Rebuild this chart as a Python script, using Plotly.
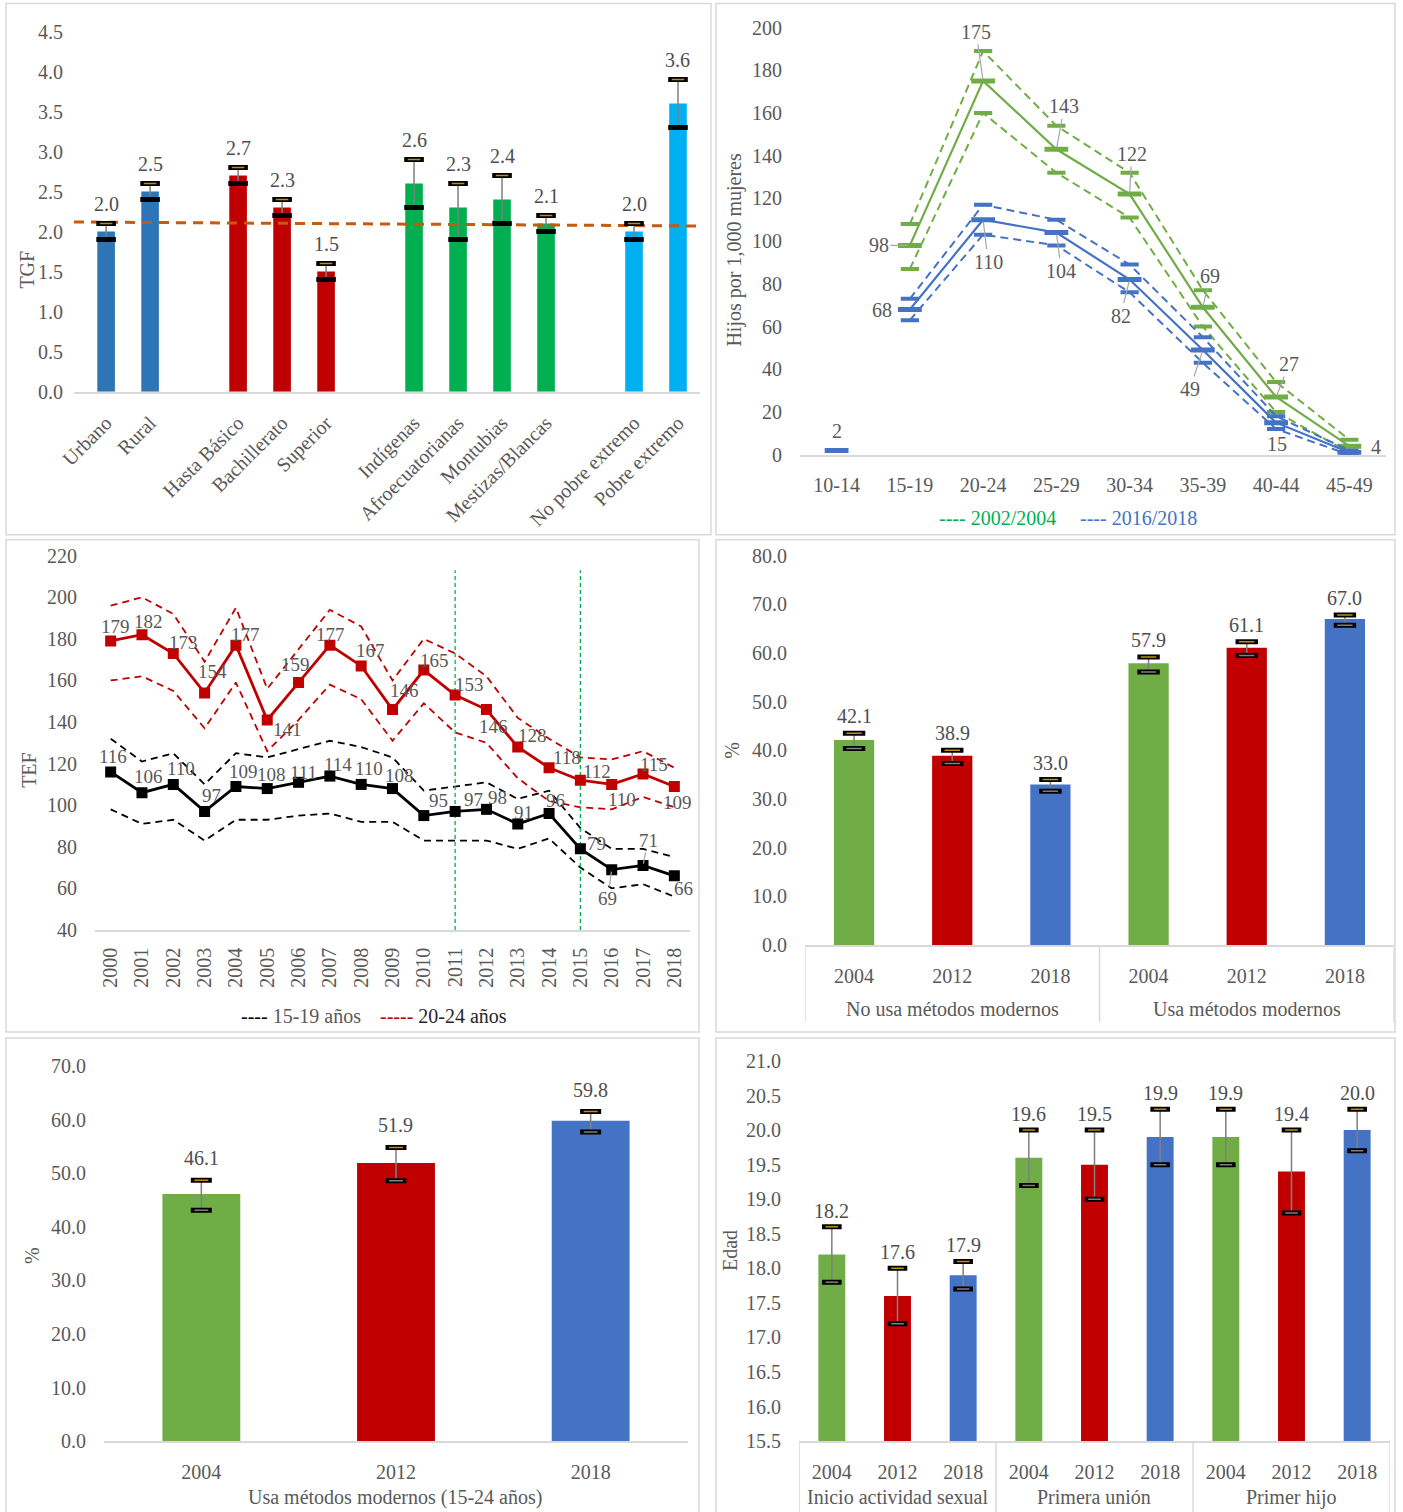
import plotly.graph_objects as go

# ---------------------------------------------------------------- data
# A. Tasa global de fecundidad (TGF) por grupo
TGF_GROUPS = [
    ["Urbano", "Rural"],
    ["Hasta Básico", "Bachillerato", "Superior"],
    ["Indígenas", "Afroecuatorianas", "Montubias", "Mestizas/Blancas"],
    ["No pobre extremo", "Pobre extremo"],
]
TGF = [[2.0, 2.5], [2.7, 2.3, 1.5], [2.6, 2.3, 2.4, 2.1], [2.0, 3.6]]
TGF_LO = [[1.9, 2.4], [2.6, 2.2, 1.4], [2.3, 1.9, 2.1, 2.0], [1.9, 3.3]]
TGF_HI = [[2.1, 2.6], [2.8, 2.4, 1.6], [2.9, 2.6, 2.7, 2.2], [2.1, 3.9]]
TGF_NATIONAL = [2.12, 2.07]          # reference line at the two ends of the plot

# B. Tasas específicas de fecundidad por edad (hijos por 1,000 mujeres)
AGE_GROUPS = ["10-14", "15-19", "20-24", "25-29", "30-34", "35-39", "40-44", "45-49"]
ASFR_0204 = [None, 98, 175, 143, 122, 69, 27, 4]
ASFR_0204_LO = [None, 87, 160, 132, 111, 60, 20, 1]
ASFR_0204_HI = [None, 108, 189, 154, 132, 77, 34, 7]
ASFR_1618 = [2, 68, 110, 104, 82, 49, 15, 1]
ASFR_1618_LO = [None, 63, 103, 98, 76, 43, 12, 0]
ASFR_1618_HI = [None, 73, 117, 110, 89, 55, 18, 2]

# C. TEF de adolescentes y jóvenes, 2000-2018
YEARS = ["2000", "2001", "2002", "2003", "2004", "2005", "2006", "2007", "2008", "2009",
         "2010", "2011", "2012", "2013", "2014", "2015", "2016", "2017", "2018"]
TEF_2024 = [179, 182, 173, 154, 177, 141, 159, 177, 167, 146, 165, 153, 146, 128, 118, 112, 110, 115, 109]
TEF_2024_HI = [196, 200, 192, 169, 195, 156, 175, 194, 186, 160, 180, 173, 162, 142, 132, 123, 122, 126, 118]
TEF_2024_LO = [160, 162, 155, 137, 159, 126, 141, 158, 151, 131, 149, 135, 130, 113, 102, 99, 98, 104, 99]
TEF_1519 = [116, 106, 110, 97, 109, 108, 111, 114, 110, 108, 95, 97, 98, 91, 96, 79, 69, 71, 66]
TEF_1519_HI = [132, 121, 125, 110, 125, 123, 127, 131, 128, 123, 107, 109, 111, 103, 107, 89, 79, 79, 75]
TEF_1519_LO = [98, 91, 93, 83, 93, 93, 95, 96, 92, 92, 83, 83, 83, 79, 84, 70, 60, 62, 56]
CUT_YEARS = ["2011", "2015"]

# D. Uso de métodos modernos (%)
SURVEY_YEARS = ["2004", "2012", "2018"]
USE_GROUPS = ["No usa métodos modernos", "Usa métodos modernos"]
USE_PCT = [[42.1, 38.9, 33.0], [57.9, 61.1, 67.0]]
USE_LO = [[40.4, 37.3, 31.6], [56.1, 59.5, 65.7]]
USE_HI = [[43.5, 40.0, 34.0], [59.2, 62.3, 67.8]]

# E. Uso de métodos modernos, 15-24 años (%)
YOUTH_PCT = [46.1, 51.9, 59.8]
YOUTH_LO = [43.1, 48.6, 57.7]
YOUTH_HI = [48.7, 54.8, 61.5]

# F. Edad mediana a los eventos
EVENTS = ["Inicio actividad sexual", "Primera unión", "Primer hijo"]
AGE_MED = [[18.2, 17.6, 17.9], [19.6, 19.5, 19.9], [19.9, 19.4, 20.0]]
AGE_LO = [[17.8, 17.2, 17.7], [19.2, 19.0, 19.5], [19.5, 18.8, 19.7]]
AGE_HI = [[18.6, 18.0, 18.1], [20.0, 20.0, 20.3], [20.3, 20.0, 20.3]]

# ---------------------------------------------------------------- styles
W, H = 1403, 1512
# layout grid: positions below are given on a grid inset from the page corner
GRID_X0, GRID_Y0 = 14.0, 11.5
GRID_SX, GRID_SY = 0.9886, 0.985
FONT = "Liberation Serif"
FS = 20
TICK_GREY = "#595959"
LABEL_GREY = "#4D4D4D"
AXIS_GREY = "#D9D9D9"
ERR_GREY = "#7F7F7F"
CAP_GOLD = "#BF8F00"
GREEN = "#70AD47"
RED = "#C00000"
BLUE = "#4472C4"
BRIGHT_GREEN = "#00B050"
TGF_COLORS = ["#2E75B6", "#C00000", "#00B050", "#00B0F0"]
YEAR_COLORS = [GREEN, RED, BLUE]
A_RANGE = [-0.73, 13.5]

# label offsets in pixels (dx, dy, leader line)
ASFR_0204_OFF = [None, (-31, 0, True), (-7, -49, True), (8, -43, True), (2, -40, True),
                 (7, -31, True), (13, -33, True), (27, 1, False)]
ASFR_1618_OFF = [(0, -19, False), (-28, 1, False), (5, 42, True), (5, 38, True),
                 (-9, 36, True), (-13, 39, True), (1, 21, False), None]
TEF_2024_OFF = [(5, -14), (7, -13), (10, -11), (8, -21), (10, -11), (20, 10), (-3, -18), (1, -11),
                (9, -15), (12, -19), (11, -10), (14, -11), (7, 17), (15, -11), (18, -10), (17, -9),
                (10, 15), (11, -10), (3, 16)]
TEF_1519_OFF = [(2, -15), (7, -16), (8, -16), (7, -16), (8, -15), (4, -14), (5, -10), (8, -12),
                (8, -16), (7, -13), (15, -15), (18, -12), (11, -12), (6, -11), (6, -13), (16, -5),
                (-4, 29), (5, -25), (9, 13)]
TEF_1519_LEADER = {16, 17}


def px(x):
    return (x - GRID_X0) / GRID_SX / W


def py(y):
    return 1 - (y - GRID_Y0) / GRID_SY / H


fig = go.Figure()
annotations = []
shapes = []


def paper_text(text, x, y, angle=0, color=TICK_GREY):
    annotations.append(dict(x=px(x), y=py(y), xref="paper", yref="paper", text=text,
                            textangle=angle, showarrow=False, xanchor="center", yanchor="middle",
                            font=dict(family=FONT, size=FS, color=color)))


def add_caps(xs, lo, hi, xa, ya, size=14, lo_core=None):
    """Black end blocks of the confidence intervals, with a coloured core."""
    common = dict(mode="markers", xaxis=xa, yaxis=ya, hoverinfo="skip", showlegend=False)
    fig.add_trace(go.Scatter(x=xs, y=hi, marker=dict(symbol="line-ew", size=size,
                                                     line=dict(color="black", width=5)), **common))
    fig.add_trace(go.Scatter(x=xs, y=hi, marker=dict(symbol="line-ew", size=size - 5,
                                                     line=dict(color=CAP_GOLD, width=1.5)), **common))
    fig.add_trace(go.Scatter(x=xs, y=lo, marker=dict(symbol="line-ew", size=size,
                                                     line=dict(color="black", width=5)), **common))
    if lo_core:
        fig.add_trace(go.Scatter(x=xs, y=lo, marker=dict(symbol="line-ew", size=size - 5,
                                                         line=dict(color=lo_core, width=1.5)), **common))


def bar_labels(xref, yref, xs, values, tops, shift):
    for x, v, t in zip(xs, values, tops):
        annotations.append(dict(x=x, y=t, xref=xref, yref=yref, text=f"{v:.1f}",
                                showarrow=False, yshift=shift, xanchor="center", yanchor="middle",
                                font=dict(family=FONT, size=FS, color=LABEL_GREY)))


def point_label(xref, yref, x, y, text, off, size=FS):
    dx, dy, leader = off
    a = dict(x=x, y=y, xref=xref, yref=yref, text=text, xanchor="center", yanchor="middle",
             font=dict(family=FONT, size=size, color=TICK_GREY))
    if leader:
        a.update(showarrow=True, ax=dx, ay=dy, arrowhead=0, arrowwidth=1.2,
                 arrowcolor="#A6A6A6", standoff=2)
    else:
        a.update(showarrow=False, xshift=dx, yshift=-dy)
    annotations.append(a)


def err(vals, lo, hi):
    return dict(type="data", symmetric=False,
                array=[h - v for v, h in zip(vals, hi)],
                arrayminus=[v - l for v, l in zip(vals, lo)],
                color=ERR_GREY, thickness=1.5, width=0)


def grouped_axis_decor(xref, groups, per_group, axis_y, label_y, div_bottom):
    """Group names under the year labels and vertical dividers between groups."""
    for gi, name in enumerate(groups):
        centre = gi * per_group + (per_group - 1) / 2
        annotations.append(dict(x=centre, y=py(label_y), xref=xref, yref="paper", text=name,
                                showarrow=False, xanchor="center", yanchor="middle",
                                font=dict(family=FONT, size=FS, color=TICK_GREY)))
    for k in range(len(groups) + 1):
        xb = k * per_group - 0.5
        shapes.append(dict(type="line", xref=xref, yref="paper", x0=xb, x1=xb,
                           y0=py(axis_y), y1=py(div_bottom),
                           line=dict(color=AXIS_GREY, width=1.5)))


# ---------------------------------------------------------------- panel A
a_pos, a_names, a_vals, a_lo, a_hi, a_cols = [], [], [], [], [], []
slot = 0
for names, vals, los, his, col in zip(TGF_GROUPS, TGF, TGF_LO, TGF_HI, TGF_COLORS):
    for n, v, l, h in zip(names, vals, los, his):
        a_pos.append(slot)
        a_names.append(n)
        a_vals.append(v)
        a_lo.append(l)
        a_hi.append(h)
        a_cols.append(col)
        slot += 1
    slot += 1

fig.add_trace(go.Bar(x=a_pos, y=a_vals, width=0.4, marker=dict(color=a_cols, line=dict(width=0)),
                     error_y=err(a_vals, a_lo, a_hi), xaxis="x", yaxis="y", hoverinfo="skip"))
fig.add_trace(go.Scatter(x=A_RANGE, y=TGF_NATIONAL, mode="lines", xaxis="x", yaxis="y",
                         line=dict(color="#C55A11", width=3, dash="10px,7px"), hoverinfo="skip"))
add_caps(a_pos, a_lo, a_hi, "x", "y", size=14)
bar_labels("x", "y", a_pos, a_vals, a_hi, 20)

# ---------------------------------------------------------------- panel B
b_idx = list(range(len(AGE_GROUPS)))
dash_b = "8px,5px"
for vals, lo, hi, col in [(ASFR_0204, ASFR_0204_LO, ASFR_0204_HI, GREEN),
                          (ASFR_1618, ASFR_1618_LO, ASFR_1618_HI, BLUE)]:
    for band in (hi, lo):
        fig.add_trace(go.Scatter(x=b_idx, y=band, mode="lines+markers", xaxis="x2", yaxis="y2",
                                 line=dict(color=col, width=2, dash=dash_b),
                                 marker=dict(symbol="line-ew", size=13, line=dict(color=col, width=4)),
                                 hoverinfo="skip"))
    fig.add_trace(go.Scatter(x=b_idx[1:], y=vals[1:], mode="lines", xaxis="x2", yaxis="y2",
                             line=dict(color=col, width=2.2), hoverinfo="skip"))
    fig.add_trace(go.Scatter(x=b_idx, y=vals, mode="markers", xaxis="x2", yaxis="y2",
                             marker=dict(symbol="line-ew", size=17, line=dict(color=col, width=5)),
                             hoverinfo="skip"))

for vals, offs in [(ASFR_0204, ASFR_0204_OFF), (ASFR_1618, ASFR_1618_OFF)]:
    for i, v, o in zip(b_idx, vals, offs):
        if v is not None and o is not None:
            point_label("x2", "y2", i, v, f"{v:d}", o)

paper_text(f"<span style='color:{BRIGHT_GREEN}'>---- 2002/2004</span>", 996, 518)
paper_text(f"<span style='color:{BLUE}'>---- 2016/2018</span>", 1137, 518)

# ---------------------------------------------------------------- panel C
c_idx = list(range(len(YEARS)))
for band in (TEF_1519_HI, TEF_1519_LO):
    fig.add_trace(go.Scatter(x=c_idx, y=band, mode="lines", xaxis="x3", yaxis="y3",
                             line=dict(color="black", width=1.8, dash="7px,5px"), hoverinfo="skip"))
for band in (TEF_2024_HI, TEF_2024_LO):
    fig.add_trace(go.Scatter(x=c_idx, y=band, mode="lines", xaxis="x3", yaxis="y3",
                             line=dict(color=RED, width=1.8, dash="7px,5px"), hoverinfo="skip"))
for yr in CUT_YEARS:
    k = YEARS.index(yr)
    fig.add_trace(go.Scatter(x=[k, k], y=[40, 213], mode="lines", xaxis="x3", yaxis="y3",
                             line=dict(color=BRIGHT_GREEN, width=1.3, dash="4px,3px"), hoverinfo="skip"))
for vals, col in [(TEF_1519, "black"), (TEF_2024, RED)]:
    fig.add_trace(go.Scatter(x=c_idx, y=vals, mode="lines+markers", xaxis="x3", yaxis="y3",
                             line=dict(color=col, width=2.8),
                             marker=dict(symbol="square", size=11, color=col), hoverinfo="skip"))
for i, v in zip(c_idx, TEF_2024):
    dx, dy = TEF_2024_OFF[i]
    point_label("x3", "y3", i, v, f"{v:d}", (dx, dy, False), size=19)
for i, v in zip(c_idx, TEF_1519):
    dx, dy = TEF_1519_OFF[i]
    point_label("x3", "y3", i, v, f"{v:d}", (dx, dy, i in TEF_1519_LEADER), size=19)

paper_text(f"<span style='color:black'>----</span><span style='color:{TICK_GREY}'> 15-19 años</span>",
           299, 1016)
paper_text(f"<span style='color:{RED}'>-----</span><span style='color:#262626'> 20-24 años</span>",
           442, 1016)

# ---------------------------------------------------------------- panel D
d_inner = SURVEY_YEARS * len(USE_GROUPS)
d_idx = list(range(len(d_inner)))
d_vals = [v for row in USE_PCT for v in row]
d_lo = [v for row in USE_LO for v in row]
d_hi = [v for row in USE_HI for v in row]
d_cols = YEAR_COLORS * len(USE_GROUPS)
fig.add_trace(go.Bar(x=d_idx, y=d_vals, width=0.41, marker=dict(color=d_cols, line=dict(width=0)),
                     error_y=err(d_vals, d_lo, d_hi), xaxis="x4", yaxis="y4", hoverinfo="skip"))
add_caps(d_idx, d_lo, d_hi, "x4", "y4", size=16, lo_core=ERR_GREY)
bar_labels("x4", "y4", d_idx, d_vals, d_hi, 17)
grouped_axis_decor("x4", USE_GROUPS, len(SURVEY_YEARS), 945, 1009, 1022)

# ---------------------------------------------------------------- panel E
e_idx = list(range(len(SURVEY_YEARS)))
fig.add_trace(go.Bar(x=e_idx, y=YOUTH_PCT, width=0.4,
                     marker=dict(color=YEAR_COLORS, line=dict(width=0)),
                     error_y=err(YOUTH_PCT, YOUTH_LO, YOUTH_HI), xaxis="x5", yaxis="y5", hoverinfo="skip"))
add_caps(e_idx, YOUTH_LO, YOUTH_HI, "x5", "y5", size=15, lo_core=ERR_GREY)
bar_labels("x5", "y5", e_idx, YOUTH_PCT, YOUTH_HI, 22)
paper_text("Usa métodos modernos (15-24 años)", 393, 1497)

# ---------------------------------------------------------------- panel F
f_inner = SURVEY_YEARS * len(EVENTS)
f_idx = list(range(len(f_inner)))
f_vals = [v for row in AGE_MED for v in row]
f_lo = [v for row in AGE_LO for v in row]
f_hi = [v for row in AGE_HI for v in row]
f_cols = YEAR_COLORS * len(EVENTS)
fig.add_trace(go.Bar(x=f_idx, y=f_vals, width=0.41, marker=dict(color=f_cols, line=dict(width=0)),
                     error_y=err(f_vals, f_lo, f_hi), xaxis="x6", yaxis="y6", hoverinfo="skip"))
add_caps(f_idx, f_lo, f_hi, "x6", "y6", size=14, lo_core=ERR_GREY)
bar_labels("x6", "y6", f_idx, f_vals, f_hi, 16)
grouped_axis_decor("x6", EVENTS, len(SURVEY_YEARS), 1441, 1497, 1530)

# ---------------------------------------------------------------- axis titles
for text, x, y in [("TGF", 25, 270), ("Hijos por 1,000 mujeres", 733, 250), ("TEF", 27, 770),
                   ("%", 730, 750), ("%", 30, 1255), ("Edad", 728, 1250)]:
    paper_text(text, x, y, angle=-90)

# ---------------------------------------------------------------- layout
tickfont = dict(family=FONT, size=FS, color=TICK_GREY)


def xax(x0, x1, anchor, **kw):
    d = dict(domain=[px(x0), px(x1)], anchor=anchor, showgrid=False, zeroline=False,
             showline=True, linecolor=AXIS_GREY, linewidth=1.5, ticks="", tickfont=tickfont,
             fixedrange=True, ticklabelstandoff=12)
    d.update(kw)
    return d


def yax(top, bottom, anchor, rng, dtick, fmt, standoff=17):
    return dict(domain=[py(bottom), py(top)], anchor=anchor, range=rng, dtick=dtick, tick0=rng[0],
                tickformat=fmt, showgrid=False, zeroline=False, showline=False, ticks="",
                ticklabelstandoff=standoff, tickfont=tickfont, fixedrange=True)


def cat_ticks(idx, labels):
    return dict(range=[-0.5, len(idx) - 0.5], tickmode="array", tickvals=idx, ticktext=labels)


panel_boxes = [(4, 4, 709, 535), (714, 4, 1393, 535), (4, 540, 697, 1032),
               (714, 540, 1393, 1032), (4, 1038, 697, 1530), (714, 1038, 1393, 1530)]
for a, b, c, d in panel_boxes:
    shapes.append(dict(type="rect", xref="paper", yref="paper", x0=px(a), x1=px(c), y0=py(d),
                       y1=py(b), line=dict(color=AXIS_GREY, width=1.5), layer="below"))

fig.update_layout(
    width=W, height=H, margin=dict(l=0, r=0, t=0, b=0), autosize=False,
    paper_bgcolor="white", plot_bgcolor="white", showlegend=False,
    font=dict(family=FONT, size=FS, color=TICK_GREY),
    xaxis=xax(72, 698, "y", range=A_RANGE, tickmode="array", tickvals=a_pos, ticktext=a_names,
              tickangle=-45, ticklabelstandoff=10),
    yaxis=yax(32, 392, "x", [0, 4.5], 0.5, ".1f", standoff=10),
    xaxis2=xax(798, 1384, "y2", **cat_ticks(b_idx, AGE_GROUPS)),
    yaxis2=yax(28, 455, "x2", [0, 200], 20, "d"),
    xaxis3=xax(93, 688, "y3", tickangle=-90, **dict(cat_ticks(c_idx, YEARS), ticklabelstandoff=8)),
    yaxis3=yax(556, 930, "x3", [40, 220], 20, "d"),
    xaxis4=xax(803, 1392, "y4", **cat_ticks(d_idx, d_inner)),
    yaxis4=yax(556, 945, "x4", [0, 80], 10, ".1f"),
    xaxis5=xax(102, 686, "y5", **cat_ticks(e_idx, SURVEY_YEARS)),
    yaxis5=yax(1066, 1441, "x5", [0, 70], 10, ".1f"),
    xaxis6=xax(797, 1388, "y6", **cat_ticks(f_idx, f_inner)),
    yaxis6=yax(1061, 1441, "x6", [15.5, 21], 0.5, ".1f"),
    shapes=shapes,
    annotations=annotations,
)

fig.write_html("out.html", config={"displayModeBar": False})
